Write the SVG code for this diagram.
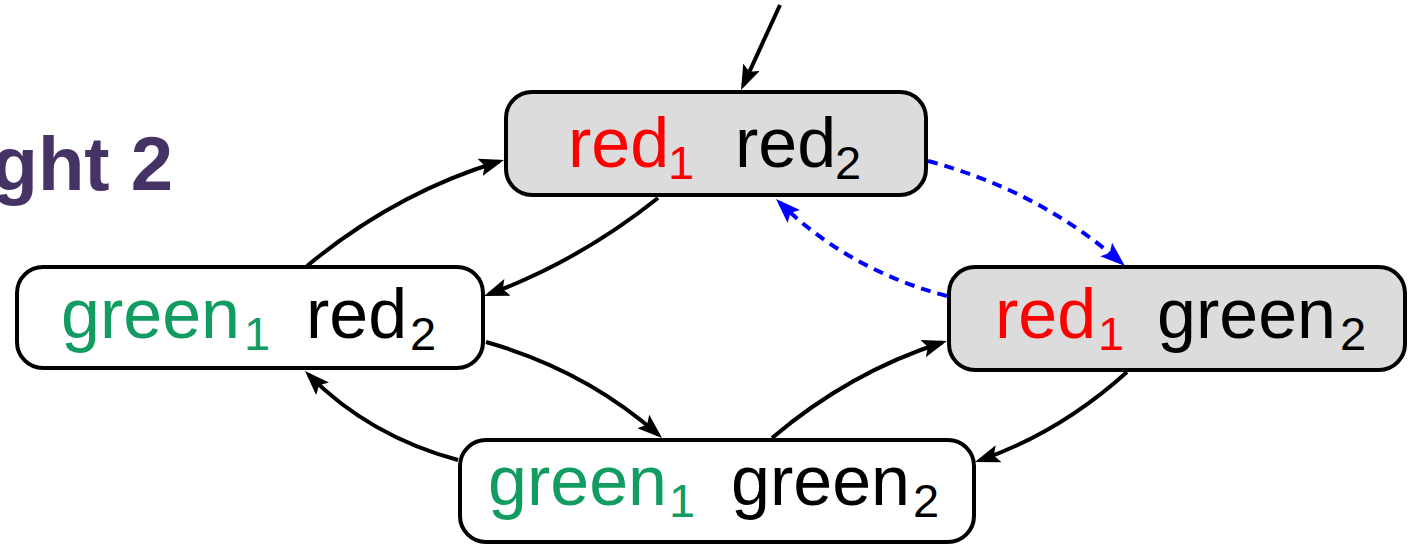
<svg xmlns="http://www.w3.org/2000/svg" width="1410" height="547" viewBox="0 0 1410 547">
  <style>
    .box { stroke: #000; stroke-width: 4; }
    .filled { fill: #dcdcdc; }
    .plain { fill: #ffffff; }
    .lbl { font-family: "Liberation Sans", Arial, sans-serif; font-size: 70px; }
    .sub { font-size: 47px; }
    .red { fill: #ff0000; }
    .grn { fill: #129c61; }
    .blk { fill: #000000; }
    .edge { fill: none; stroke: #000; stroke-width: 4; marker-end: url(#arrow); }
    .dash { fill: none; stroke: #0000ff; stroke-width: 4; stroke-dasharray: 10 7; marker-end: url(#arrowBlue); }
    .title { font-family: "Liberation Sans", Arial, sans-serif; font-weight: bold; font-size: 76px; fill: #453366; }
  </style>
  <defs>
    <marker id="arrow" markerUnits="userSpaceOnUse" viewBox="0 0 25 18" markerWidth="25" markerHeight="18" refX="20" refY="9" orient="auto">
      <path d="M0,0 L25,9 L0,18 L5,9 z" fill="#000"/>
    </marker>
    <marker id="arrowBlue" markerUnits="userSpaceOnUse" viewBox="0 0 25 18" markerWidth="25" markerHeight="18" refX="20" refY="9" orient="auto">
      <path d="M0,0 L25,9 L0,18 L5,9 z" fill="#0000ff"/>
    </marker>
  </defs>

  <!-- slide title, running off the left edge -->
  <text class="title" x="173" y="190" text-anchor="end">ght 2</text>

  <!-- state red1 red2 (initial) -->
  <g id="node-rr">
    <rect class="box filled" x="506" y="92" width="420" height="103" rx="26"/>
    <text class="lbl">
      <tspan class="red" x="568" y="167">red</tspan><tspan class="red sub" x="668" y="179">1</tspan>
      <tspan class="blk" x="735" y="167">red</tspan><tspan class="blk sub" x="835" y="179">2</tspan>
    </text>
  </g>

  <!-- state green1 red2 -->
  <g id="node-gr">
    <rect class="box plain" x="17" y="267" width="466" height="101" rx="26"/>
    <text class="lbl">
      <tspan class="grn" x="61" y="338">green</tspan><tspan class="grn sub" x="244" y="350">1</tspan>
      <tspan class="blk" x="306" y="338">red</tspan><tspan class="blk sub" x="410" y="350">2</tspan>
    </text>
  </g>

  <!-- state red1 green2 -->
  <g id="node-rg">
    <rect class="box filled" x="949" y="267" width="456" height="103" rx="26"/>
    <text class="lbl">
      <tspan class="red" x="995" y="338">red</tspan><tspan class="red sub" x="1098" y="350">1</tspan>
      <tspan class="blk" x="1157" y="338">green</tspan><tspan class="blk sub" x="1340" y="350">2</tspan>
    </text>
  </g>

  <!-- state green1 green2 -->
  <g id="node-gg">
    <rect class="box plain" x="460" y="440" width="514" height="102" rx="26"/>
    <text class="lbl">
      <tspan class="grn" x="488" y="505">green</tspan><tspan class="grn sub" x="669" y="517">1</tspan>
      <tspan class="blk" x="731" y="505">green</tspan><tspan class="blk sub" x="913" y="517">2</tspan>
    </text>
  </g>

  <!-- transitions -->
  <g id="connectors">
    <path class="edge" d="M780,5 L743.1,85.5"/>
    <path class="edge" d="M307,266 Q395,193 499.2,161.5"/>
    <path class="edge" d="M658,198 Q579,261 488.7,294.3"/>
    <path class="edge" d="M486,342 Q585,370 658.3,434.7"/>
    <path class="edge" d="M458,460 Q369.4,436.2 308.5,374.6"/>
    <path class="edge" d="M772,438 Q849.8,372 942.2,342.5"/>
    <path class="edge" d="M1127,372 Q1060,432.5 979.7,460.4"/>
    <path class="dash" d="M928,161 Q1038.7,190.5 1121.2,262.7"/>
    <path class="dash" d="M947,296 Q848.7,270.1 779.6,202.5"/>
  </g>
</svg>
